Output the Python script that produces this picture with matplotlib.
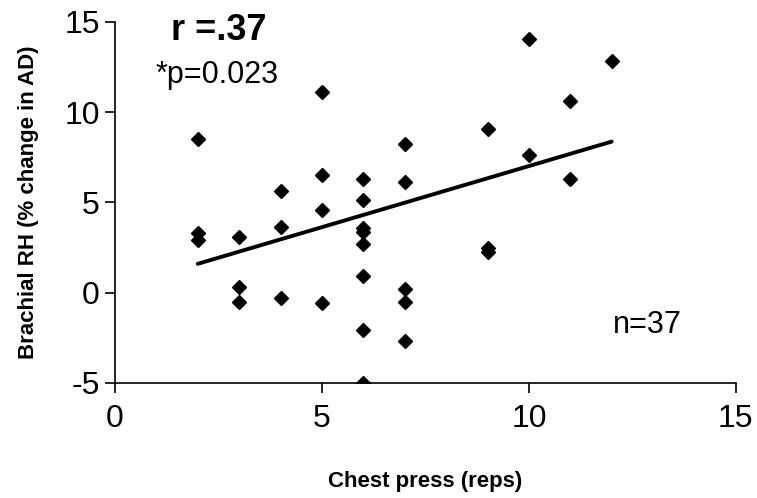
import numpy as np
import matplotlib.pyplot as plt

plt.rcParams['font.family'] = ['Liberation Sans', 'DejaVu Sans']
plt.rcParams['axes.unicode_minus'] = False

# Data
chest_reps = [2, 2, 2,
              3, 3, 3,
              4, 4, 4,
              5, 5, 5, 5,
              6, 6, 6, 6, 6, 6, 6, 6,
              7, 7, 7, 7, 7,
              9, 9, 9,
              10, 10,
              11, 11,
              12]
brachial_rh = [8.5, 3.3, 2.9,
               3.07, 0.3, -0.5,
               5.65, 3.66, -0.31,
               11.14, 6.52, 4.58, -0.55,
               6.28, 5.14, 3.57, 3.38, 2.7, 0.93, -2.06, -5.0,
               8.22, 6.15, 0.19, -0.5, -2.7,
               9.05, 2.45, 2.25,
               14.06, 7.63,
               10.64, 6.32,
               12.82]

# regression line ends as drawn
fit_x = [2, 12]
fit_y = [1.6, 8.37]

x_ticks = [0, 5, 10, 15]
y_ticks = [-5, 0, 5, 10, 15]

fig = plt.figure(figsize=(7.57, 4.98), dpi=100)
ax = fig.add_axes([0.152, 0.231, 0.820, 0.725])

ax.plot(chest_reps, brachial_rh, 'D', color='black', markersize=7, linestyle='none')
ax.plot(fit_x, fit_y, color='black', linewidth=2.8, solid_capstyle='round')

ax.set_xlim(0, 15)
ax.set_ylim(-5, 15)
ax.set_xticks(x_ticks)
ax.set_yticks(y_ticks)
ax.spines['top'].set_visible(False)
ax.spines['right'].set_visible(False)
ax.spines['left'].set_linewidth(1.2)
ax.spines['bottom'].set_linewidth(1.2)
ax.tick_params(axis='y', direction='out', length=7, width=1.2, labelsize=23, pad=4)
ax.tick_params(axis='x', direction='out', length=7, width=1.2, labelsize=23, pad=8)

ax.set_xlabel("Chest press (reps)", fontsize=16, fontweight='bold', labelpad=27)
ax.set_ylabel("Brachial RH (% change in AD)", fontsize=16, fontweight='bold', labelpad=18)

ax.text(1.35, 14.0, "r =.37", fontsize=26, fontweight='bold', ha='left', va='baseline')
ax.text(0.97, 11.6, "*p=0.023", fontsize=22, ha='left', va='baseline')
ax.text(12.03, -2.23, "n=37", fontsize=22, ha='left', va='baseline')

plt.savefig("out.png", dpi=100)
